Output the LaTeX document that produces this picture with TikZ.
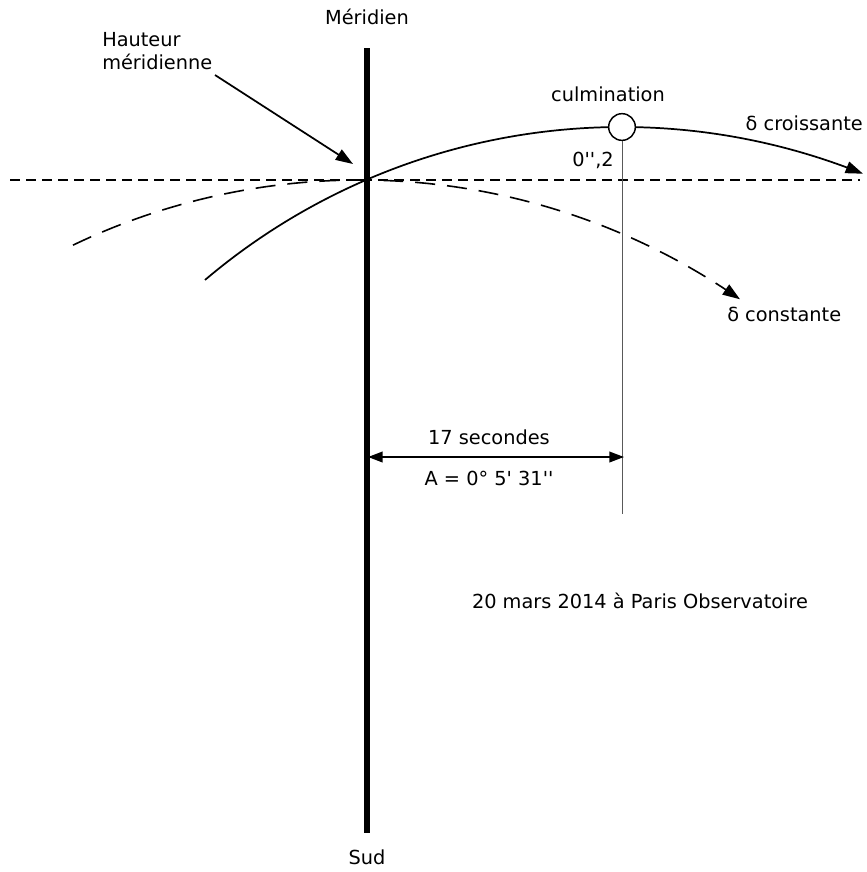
\documentclass[tikz,border=0pt]{standalone}
\usepackage{fontspec}
\setmainfont{DejaVu Sans}[Ligatures=TeXOff]
\usetikzlibrary{arrows.meta}
\begin{document}
\begin{tikzpicture}[x=0.75pt,y=-0.75pt,
  lbl/.style={font=\fontsize{14.5pt}{17.5pt}\selectfont, inner sep=0pt},
  tri/.style={-{Triangle[length=13pt,width=9pt]}},
  tritwo/.style={{Triangle[length=11pt,width=8pt]}-{Triangle[length=11pt,width=8pt]}},
  hdash/.style={line width=1.1pt, dash pattern=on 7.5pt off 4.5pt},
  cdash/.style={line width=1.2pt, dash pattern=on 15pt off 9pt},
  arcline/.style={line width=1.3pt}]
\useasboundingbox (0,0) rectangle (867,872);
% meridian
\coordinate (mtop) at (367,48);
\coordinate (mbot) at (367,833);
\draw[line width=3.8pt] (mtop) -- (mbot);
\node[lbl] (meridien) at (367,17) {Méridien};
\node[lbl] (sud) at (367,857) {Sud};
% horizontal dashed line
\coordinate (hl) at (10,180);
\coordinate (hr) at (860,180);
\draw[hdash] (hl) -- (hr);
% dashed curve (delta constante)
\draw[cdash, -{Triangle[length=13pt,width=9pt]}] plot[smooth, samples=50, domain=73:740]
  (\x, {845 - 100*sqrt(44.2225 - ((\x-360)/100)^2)});
% solid arc (delta croissante)
\draw[arcline, tri] plot[smooth, samples=60, domain=205:863]
  (\x, {772 - 100*sqrt(41.6025 - ((\x-622)/100)^2)});
% culmination vertical
\coordinate (cbot) at (622,514);
\node[circle, draw, fill=white, line width=1.1pt, minimum size=20pt, inner sep=0pt] (culm) at (622,127) {};
\draw[gray!70!black, line width=0.7pt] (culm.south) -- (cbot);
\node[lbl] (culmlbl) at (608,94) {culmination};
\node[lbl, anchor=east] (croiss) at (863,123) {δ croissante};
\node[lbl, anchor=east] (zero) at (614,160) {0'',2};
\node[lbl, anchor=west] (const) at (727,314) {δ constante};
% hauteur meridienne
\node[lbl, anchor=north west, align=left, font=\fontsize{14.5pt}{17.5pt}\selectfont] (haut) at (102,32) {Hauteur\\méridienne};
\coordinate (hs) at (215,75);
\coordinate (ht) at (353,164);
\draw[line width=1.3pt, tri] (hs) -- (ht);
% dimension
\coordinate (da) at (368,457);
\coordinate (db) at (624,457);
\draw[line width=1.3pt, tritwo] (da) -- (db);
\node[lbl] (sec) at (489,437) {17 secondes};
\node[lbl] (aval) at (489,478) {A = 0° 5' 31''};
\node[lbl] (date) at (640,601) {20 mars 2014 à Paris Observatoire};
\end{tikzpicture}
\end{document}
